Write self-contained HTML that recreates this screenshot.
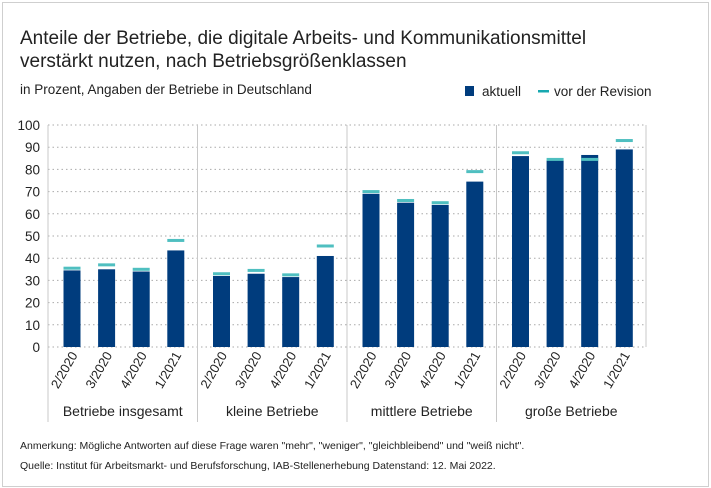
<!DOCTYPE html>
<html><head><meta charset="utf-8">
<style>
body{margin:0;background:#fff;font-family:"Liberation Sans",sans-serif;}
#wrap{position:relative;width:711px;height:488px;overflow:hidden;}
#frame{position:absolute;left:2px;top:2px;width:705px;height:483px;border:1px solid #cfcfcf;}
.t{position:absolute;color:#222;}
</style></head><body>
<div id="wrap">
<div id="frame"></div>
<div class="t" style="left:20px;top:27px;font-size:19px;line-height:23px;">Anteile der Betriebe, die digitale Arbeits- und Kommunikationsmittel<br>verstärkt nutzen, nach Betriebsgrößenklassen</div>
<div class="t" style="left:20px;top:82px;font-size:13.5px;">in Prozent, Angaben der Betriebe in Deutschland</div>
<div class="t" style="left:20px;top:440px;font-size:10.5px;">Anmerkung: Mögliche Antworten auf diese Frage waren "mehr", "weniger", "gleichbleibend" und "weiß nicht".</div>
<div class="t" style="left:20px;top:460px;font-size:10.5px;">Quelle: Institut für Arbeitsmarkt- und Berufsforschung, IAB-Stellenerhebung Datenstand: 12. Mai 2022.</div>
<svg id="chart" width="711" height="488" style="position:absolute;left:0;top:0"></svg>
</div>
<script>
const groups=["Betriebe insgesamt","kleine Betriebe","mittlere Betriebe","große Betriebe"];
const periods=["2/2020","3/2020","4/2020","1/2021"];
const aktuell=[[34.5,35,34,43.5],[32,33,31.5,41],[69,65,64,74.5],[86,84,86.5,89]];
const revision=[[35.5,37,35,48],[33,34.5,32.5,45.5],[70,66,65,79],[87.5,84.5,84.5,93]];
const yTicks=[0,10,20,30,40,50,60,70,80,90,100];

const NS="http://www.w3.org/2000/svg";
const svg=document.getElementById('chart');
const x0=48,x1=646,y0=347,y1=125,gw=(x1-x0)/groups.length;
const y=v=>y0-(v/100)*(y0-y1);
const bx=(g,i)=>x0+g*gw+24+i*34.6;
function mk(t,a){const e=document.createElementNS(NS,t);for(const k in a)e.setAttribute(k,a[k]);svg.appendChild(e);return e;}

yTicks.forEach(v=>{
  const l=mk('line',{x1:x0,x2:x1,y1:y(v),y2:y(v),stroke:'#aaa','stroke-dasharray':'1.5,3'});
  
  
  const t=mk('text',{x:40,y:y(v)+5,'text-anchor':'end','font-size':'13.5',fill:'#222'});
  t.textContent=v;
  
  
});
for(let g=0;g<=groups.length;g++){
  const xx=x0+g*gw;
  const l=mk('line',{x1:xx,x2:xx,y1:y1,y2:g==groups.length?y0:422,stroke:'#c8c8c8'});
  
  
}
groups.forEach((gn,g)=>{
  const t=mk('text',{x:x0+g*gw+gw/2,y:416,'text-anchor':'middle','font-size':'14',fill:'#222'});
  t.textContent=gn;
  
  
  periods.forEach((p,i)=>{
    const cx=bx(g,i);
    const b=mk('rect',{x:cx-8.5,y:y(aktuell[g][i]),width:17,height:y0-y(aktuell[g][i]),fill:'#003c7d'});
    
    
    const m=mk('rect',{x:cx-8.5,y:y(revision[g][i])-1.5,width:17,height:3,fill:'#4fbfc0'});
    
    
    const tl=mk('text',{x:cx+6,y:355,'text-anchor':'end','font-size':'13',fill:'#222',transform:`rotate(-60 ${cx+6} 355)`});
    tl.textContent=p;
    
    
  });
});
// legend
const lg=mk('rect',{x:465,y:86,width:9,height:10,fill:'#003c7d'});


const lt=mk('text',{x:482,y:96,'font-size':'13.5',fill:'#222'});lt.textContent='aktuell';


const lg2=mk('rect',{x:538,y:90,width:11,height:2.5,fill:'#17a8b0'});


const lt2=mk('text',{x:554,y:96,'font-size':'13.5',fill:'#222'});lt2.textContent='vor der Revision';


</script>
</body></html>
